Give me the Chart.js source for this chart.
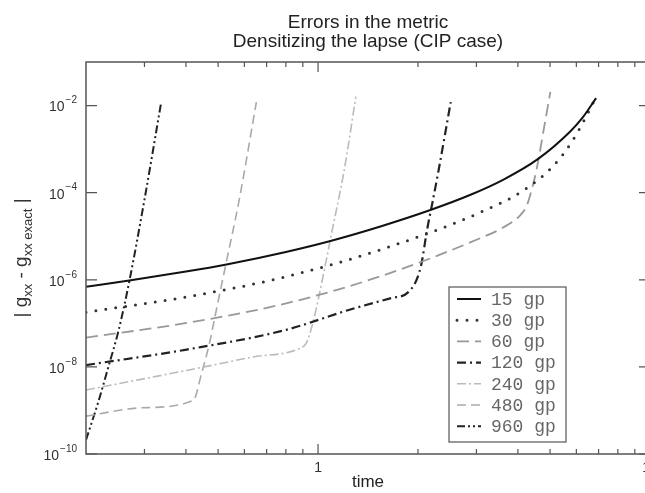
<!DOCTYPE html>
<html>
<head>
<meta charset="utf-8">
<script src="https://cdn.jsdelivr.net/npm/chart.js@4.4.0/dist/chart.umd.min.js"></script>
<style>
  html, body { margin: 0; padding: 0; background: #fff; overflow: hidden; }
  #wrap { width: 660px; height: 493px; position: relative; }
</style>
</head>
<body>
<div id="wrap"><canvas id="errChart"></canvas></div>
<script>
// time / error pairs, one pair of arrays per resolution
const t15 = [0.2, 0.27, 0.4, 0.53, 0.8, 1.09, 1.55, 2.18, 2.88, 3.62, 4.58, 5.75, 6.29, 6.88];
const e15 = [6.9e-7, 9.6e-7, 1.54e-6, 2.25e-6, 4.36e-6, 7.8e-6, 1.7e-5, 4.0e-5, 8.95e-5, 2.0e-4, 5.8e-4, 2.54e-3, 5.5e-3, 1.48e-2];

const t30 = [0.2, 0.402, 0.802, 1.66, 3.09, 4.16, 5.11, 5.83, 6.38, 6.79];
const e30 = [1.8e-7, 4.05e-7, 1.18e-6, 5.9e-6, 3.56e-5, 1.13e-4, 4.1e-4, 1.52e-3, 5.1e-3, 1.3e-2];

const t60 = [0.2, 0.402, 0.802, 1.55, 3.09, 3.62, 4.07, 4.26, 4.41, 4.56, 4.78, 5.01];
const e60 = [4.7e-8, 1.02e-7, 2.88e-7, 1.22e-6, 9.1e-6, 1.6e-5, 3.06e-5, 5.2e-5, 1.23e-4, 3.6e-4, 2.7e-3, 2.06e-2];

const t120 = [0.2, 0.402, 0.802, 1.23, 1.66, 1.88, 2.04, 2.13, 2.21, 2.31, 2.51];
const e120 = [1.1e-8, 2.5e-8, 7.1e-8, 2.0e-7, 3.8e-7, 5.4e-7, 2.0e-6, 1.4e-5, 5.8e-5, 3.4e-4, 1.2e-2];

const t240 = [0.2, 0.402, 0.629, 0.889, 0.92, 0.964, 1.045, 1.094, 1.20, 1.30];
const e240 = [2.95e-9, 8.3e-9, 1.66e-8, 2.75e-8, 3.4e-8, 1.0e-7, 1.7e-6, 1.0e-5, 3.4e-4, 1.6e-2];

const t480 = [0.2, 0.294, 0.421, 0.446, 0.471, 0.487, 0.529, 0.579, 0.652];
const e480 = [7.4e-10, 1.15e-9, 1.7e-9, 7.2e-9, 3.5e-8, 1.2e-7, 2.5e-6, 6.9e-5, 1.2e-2];

const t960 = [0.2, 0.218, 0.234, 0.251, 0.271, 0.300, 0.336];
const e960 = [2.1e-10, 1.6e-9, 1.05e-8, 7.1e-8, 1.05e-6, 6.9e-5, 1.05e-2];

const seriesLabels = ['15 gp', '30 gp', '60 gp', '120 gp', '240 gp', '480 gp', '960 gp'];

// axis ticks
const yTickExps = [-2, -4, -6, -8, -10];
const xMajorTicks = [1, 10];
const xMinorTicks = [0.3, 0.4, 0.5, 0.6, 0.7, 0.8, 0.9, 2, 3, 4, 5, 6, 7, 8, 9];

const titleLines = ['Errors in the metric', 'Densitizing the lapse (CIP case)'];

function pairs(ts, es) {
    return ts.map((t, i) => ({ x: t, y: es[i] }));
}

const styles = [
    { color: '#111111', width: 2, dash: [] },
    { color: '#333333', width: 3, dash: [0, 10], cap: 'round' },
    { color: '#999999', width: 1.8, dash: [12, 6] },
    { color: '#222222', width: 2.2, dash: [9, 4, 2, 4] },
    { color: '#bbbbbb', width: 1.6, dash: [9, 3, 2, 3] },
    { color: '#aaaaaa', width: 1.6, dash: [9, 5] },
    { color: '#222222', width: 2, dash: [8, 3, 2, 3, 2, 3] }
];

const allSeries = [
    pairs(t15, e15), pairs(t30, e30), pairs(t60, e60), pairs(t120, e120),
    pairs(t240, e240), pairs(t480, e480), pairs(t960, e960)
];

const datasets = allSeries.map((pts, i) => ({
    label: seriesLabels[i],
    data: pts,
    borderColor: styles[i].color,
    borderWidth: styles[i].width,
    borderDash: styles[i].dash,
    borderCapStyle: styles[i].cap || 'butt',
    cubicInterpolationMode: 'monotone',
    pointRadius: 0,
    fill: false
}));

// frame, inward ticks, labels, titles and the boxed legend
const decorations = {
    id: 'decorations',
    afterDraw(chart) {
        const { ctx, chartArea: a, scales: { x, y } } = chart;
        ctx.save();

        // frame
        ctx.strokeStyle = '#555';
        ctx.lineWidth = 1.5;
        ctx.strokeRect(a.left, a.top, a.right - a.left, a.bottom - a.top);

        // x ticks (top + bottom, pointing in)
        ctx.lineWidth = 1.2;
        const xt = (v, len) => {
            const px = x.getPixelForValue(v);
            ctx.beginPath();
            ctx.moveTo(px, a.bottom); ctx.lineTo(px, a.bottom - len);
            ctx.moveTo(px, a.top); ctx.lineTo(px, a.top + len);
            ctx.stroke();
        };
        xMinorTicks.forEach(v => xt(v, 5));
        xMajorTicks.forEach(v => xt(v, 10));

        // y ticks (left + right)
        yTickExps.forEach(p => {
            const py = y.getPixelForValue(Math.pow(10, p));
            ctx.beginPath();
            ctx.moveTo(a.left, py); ctx.lineTo(a.left + 11, py);
            ctx.moveTo(a.right, py); ctx.lineTo(a.right - 11, py);
            ctx.stroke();
        });

        // y tick labels 10^p
        ctx.fillStyle = '#333';
        ctx.textBaseline = 'middle';
        yTickExps.forEach(p => {
            const py = y.getPixelForValue(Math.pow(10, p));
            ctx.font = "10px 'Liberation Sans'";
            const exp = '\u2212' + Math.abs(p);
            const ew = ctx.measureText(exp).width;
            ctx.textAlign = 'left';
            const right = 77;
            ctx.fillText(exp, right - ew, py - 5);
            ctx.font = "14px 'Liberation Sans'";
            ctx.textAlign = 'right';
            ctx.fillText('10', right - ew - 1, py + 2);
        });

        // x tick labels
        ctx.font = "14px 'Liberation Sans'";
        ctx.textAlign = 'center';
        xMajorTicks.forEach(v => {
            ctx.fillText(String(v), x.getPixelForValue(v), a.bottom + 14);
        });

        // x title
        const cx = (a.left + a.right) / 2;
        ctx.font = "17px 'Liberation Sans'";
        ctx.fillStyle = '#222';
        ctx.fillText('time', cx, a.bottom + 28);

        // chart title
        ctx.font = "19px 'Liberation Sans'";
        ctx.textBaseline = 'alphabetic';
        ctx.fillText(titleLines[0], cx, 28);
        ctx.fillText(titleLines[1], cx, 47);

        // y title with subscripts, rotated
        const parts = [
            { s: '| g', f: "19px 'Liberation Sans'", dy: 0 },
            { s: 'xx', f: "13px 'Liberation Sans'", dy: 5 },
            { s: ' - g', f: "19px 'Liberation Sans'", dy: 0 },
            { s: 'xx exact', f: "13px 'Liberation Sans'", dy: 5 },
            { s: ' |', f: "19px 'Liberation Sans'", dy: 0 }
        ];
        let total = 0;
        parts.forEach(pt => { ctx.font = pt.f; pt.w = ctx.measureText(pt.s).width; total += pt.w; });
        ctx.save();
        ctx.translate(27, (a.top + a.bottom) / 2);
        ctx.rotate(-Math.PI / 2);
        ctx.textAlign = 'left';
        ctx.fillStyle = '#333';
        let cur = -total / 2;
        parts.forEach(pt => {
            ctx.font = pt.f;
            ctx.fillText(pt.s, cur, pt.dy);
            cur += pt.w;
        });
        ctx.restore();

        // legend box
        const lx = 449, ly = 287, lw = 117, lh = 155;
        ctx.fillStyle = '#fff';
        ctx.fillRect(lx, ly, lw, lh);
        ctx.strokeStyle = '#555';
        ctx.lineWidth = 1.2;
        ctx.strokeRect(lx, ly, lw, lh);
        chart.data.datasets.forEach((ds, i) => {
            const yy = ly + 12 + i * 21.2;
            ctx.save();
            ctx.strokeStyle = ds.borderColor;
            ctx.lineWidth = ds.borderWidth;
            ctx.setLineDash(ds.borderDash);
            ctx.lineCap = ds.borderCapStyle;
            ctx.beginPath();
            ctx.moveTo(lx + 8, yy);
            ctx.lineTo(lx + 32, yy);
            ctx.stroke();
            ctx.restore();
            ctx.fillStyle = '#666';
            ctx.font = "18px 'Liberation Mono'";
            ctx.textAlign = 'left';
            ctx.textBaseline = 'middle';
            ctx.fillText(ds.label, lx + 42, yy + 1);
        });

        ctx.restore();
    }
};

new Chart(document.getElementById('errChart'), {
    type: 'line',
    data: { datasets: datasets },
    options: {
        responsive: true,
        maintainAspectRatio: false,
        animation: false,
        layout: { padding: { left: 86, right: 10, top: 62, bottom: 39 } },
        scales: {
            x: { type: 'logarithmic', min: 0.2, max: 10, display: false },
            y: { type: 'logarithmic', min: 1e-10, max: 0.1, display: false }
        },
        plugins: { legend: { display: false }, tooltip: { enabled: false } }
    },
    plugins: [decorations]
});
</script>
</body>
</html>
